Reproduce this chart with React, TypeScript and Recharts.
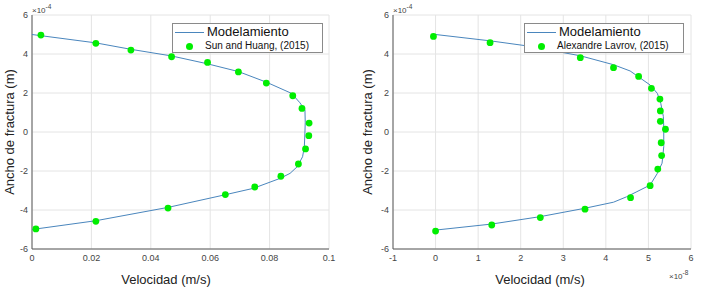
import React from "react";
import { ScatterChart, Scatter, XAxis, YAxis, CartesianGrid, Legend, Label } from "recharts";

// puntos (velocidad, ancho) - ancho en x10^-4 m
type TPoint = { v: number; w: number };

// modelo izquierdo (velocidad en m/s)
const modelLeft: TPoint[] = [
    { v: 0, w: 5.0 }, { v: 0.0215, w: 4.57 }, { v: 0.0333, w: 4.24 }, { v: 0.047, w: 3.9 },
    { v: 0.059, w: 3.5 }, { v: 0.0695, w: 3.1 }, { v: 0.079, w: 2.55 }, { v: 0.0874, w: 1.98 },
    { v: 0.0902, w: 1.5 }, { v: 0.0919, w: 1.13 }, { v: 0.092, w: 0.5 }, { v: 0.0919, w: 0 },
    { v: 0.0917, w: -0.75 }, { v: 0.0911, w: -1.27 }, { v: 0.0893, w: -1.78 }, { v: 0.0869, w: -2.12 },
    { v: 0.0835, w: -2.38 }, { v: 0.0745, w: -2.89 }, { v: 0.065, w: -3.22 }, { v: 0.046, w: -3.86 },
    { v: 0.0215, w: -4.55 }, { v: 0, w: -5.0 },
];

const sunHuang: TPoint[] = [
    { v: 0.003, w: 4.97 }, { v: 0.0215, w: 4.55 }, { v: 0.0333, w: 4.2 }, { v: 0.047, w: 3.86 },
    { v: 0.0591, w: 3.57 }, { v: 0.0695, w: 3.08 }, { v: 0.0789, w: 2.51 }, { v: 0.0878, w: 1.86 },
    { v: 0.0909, w: 1.21 }, { v: 0.0933, w: 0.46 }, { v: 0.0932, w: -0.19 }, { v: 0.0921, w: -0.87 },
    { v: 0.0897, w: -1.64 }, { v: 0.0838, w: -2.27 }, { v: 0.075, w: -2.82 }, { v: 0.0651, w: -3.21 },
    { v: 0.0458, w: -3.9 }, { v: 0.0215, w: -4.58 }, { v: 0.0013, w: -4.97 },
];

// modelo derecho (velocidad en x10^-8 m/s)
const modelRight: TPoint[] = [
    { v: 0, w: 5.0 }, { v: 1.3, w: 4.67 }, { v: 2.1, w: 4.43 }, { v: 3.4, w: 3.91 },
    { v: 4.18, w: 3.45 }, { v: 4.57, w: 3.13 }, { v: 5.04, w: 2.41 }, { v: 5.21, w: 1.98 },
    { v: 5.29, w: 1.47 }, { v: 5.35, w: 0.8 }, { v: 5.36, w: 0.27 }, { v: 5.36, w: -0.75 },
    { v: 5.32, w: -1.6 }, { v: 5.21, w: -2.12 }, { v: 5.04, w: -2.72 }, { v: 4.73, w: -3.06 },
    { v: 4.49, w: -3.32 }, { v: 4.18, w: -3.6 }, { v: 3.51, w: -3.91 }, { v: 2.46, w: -4.34 },
    { v: 1.32, w: -4.72 }, { v: 0, w: -5.03 },
];

const lavrov: TPoint[] = [
    { v: -0.05, w: 4.9 }, { v: 1.28, w: 4.58 }, { v: 3.4, w: 3.81 }, { v: 4.18, w: 3.3 },
    { v: 4.77, w: 2.85 }, { v: 5.07, w: 2.24 }, { v: 5.27, w: 1.69 }, { v: 5.28, w: 1.08 },
    { v: 5.28, w: 0.55 }, { v: 5.4, w: 0.14 }, { v: 5.3, w: -0.55 }, { v: 5.31, w: -1.21 },
    { v: 5.22, w: -1.9 }, { v: 5.04, w: -2.75 }, { v: 4.58, w: -3.37 }, { v: 3.51, w: -3.96 },
    { v: 2.46, w: -4.39 }, { v: 1.32, w: -4.77 }, { v: 0, w: -5.08 },
];

const yTicks = [-6, -4, -2, 0, 2, 4, 6];
const xTicksLeft = [0, 0.02, 0.04, 0.06, 0.08, 0.1];
const xTicksRight = [-1, 0, 1, 2, 3, 4, 5, 6];

const FONT = "'Liberation Sans', Arial, Helvetica, sans-serif";
const LINE_COLOR = "#4a86bd";
const DOT_COLOR = "#00ee00";
const GRID = "#e4e4e4";
const AXIS = "#5a5a5a";
const TICK = { fontSize: 9, fill: "#444", fontFamily: FONT };

const noShape = () => <g />;
const dotShape = (props: any) => <circle cx={props.cx} cy={props.cy} r={3.4} fill={DOT_COLOR} />;

type TLegendProps = { series: string; width: number };

function LegendBox({ series, width }: TLegendProps) {
    return (
        <div
            style={{
                position: "relative",
                width,
                height: 30,
                background: "#fff",
                border: "1px solid #8a8a8a",
                boxSizing: "border-box",
                fontFamily: FONT,
                color: "#111",
            }}
        >
            <div style={{ position: "absolute", left: 2, top: 8, width: 29, height: 1, background: LINE_COLOR }} />
            <div style={{ position: "absolute", left: 34, top: 0, fontSize: 13, lineHeight: "16px", whiteSpace: "nowrap" }}>
                Modelamiento
            </div>
            <div
                style={{
                    position: "absolute",
                    left: 13,
                    top: 19,
                    width: 7,
                    height: 7,
                    borderRadius: "50%",
                    background: DOT_COLOR,
                }}
            />
            <div style={{ position: "absolute", left: 32, top: 16, fontSize: 10, lineHeight: "12px", whiteSpace: "nowrap" }}>
                {series}
            </div>
        </div>
    );
}

const exponent = (x: number, y: number, exp: string) => () =>
    (
        <text x={x} y={y} fontSize={8} fill="#444" fontFamily={FONT}>
            ×10
            <tspan dy={-4} fontSize={6.5}>
                {exp}
            </tspan>
        </text>
    );

const yLabel = (x: number) => () =>
    (
        <text
            x={x}
            y={132}
            transform={`rotate(-90 ${x} 132)`}
            textAnchor="middle"
            dominantBaseline="central"
            fontSize={13}
            fill="#222"
            fontFamily={FONT}
        >
            Ancho de fractura (m)
        </text>
    );

const xLabel = (x: number) => () =>
    (
        <text x={x} y={284} textAnchor="middle" fontSize={13} fill="#222" fontFamily={FONT}>
            Velocidad (m/s)
        </text>
    );

type TPanelProps = {
    width: number;
    yAxisWidth: number;
    marginRight: number;
    xDomain: [number, number];
    xTicks: number[];
    model: TPoint[];
    data: TPoint[];
    series: string;
    legendLeft: number;
    legendWidth: number;
    yLabelX: number;
    xLabelX: number;
    fmt: (v: number) => string;
    xExp?: boolean;
};

function Panel(p: TPanelProps) {
    return (
        <ScatterChart width={p.width} height={292} margin={{ top: 15, right: p.marginRight, bottom: 0, left: 0 }}>
            <CartesianGrid stroke={GRID} horizontalValues={yTicks} verticalValues={p.xTicks} />
            <XAxis
                type="number"
                dataKey="v"
                domain={p.xDomain}
                ticks={p.xTicks}
                interval={0}
                tickFormatter={p.fmt}
                height={43}
                tick={TICK}
                tickLine={false}
                tickSize={0}
                tickMargin={6}
                stroke={AXIS}
                allowDataOverflow
            >
                <Label content={xLabel(p.xLabelX)} />
                {p.xExp && <Label content={exponent(p.width - 32, 279, "-8")} />}
            </XAxis>
            <YAxis
                type="number"
                dataKey="w"
                domain={[-6, 6]}
                ticks={yTicks}
                interval={0}
                width={p.yAxisWidth}
                tick={TICK}
                tickLine={false}
                tickSize={0}
                tickMargin={4}
                stroke={AXIS}
                allowDataOverflow
            >
                <Label content={yLabel(p.yLabelX)} />
                <Label content={exponent(p.yAxisWidth, 13, "-4")} />
            </YAxis>
            <Scatter
                name="Modelamiento"
                data={p.model}
                line={{ stroke: LINE_COLOR, strokeWidth: 1 }}
                lineType="joint"
                shape={noShape}
                isAnimationActive={false}
            />
            <Scatter name={p.series} data={p.data} shape={dotShape} isAnimationActive={false} />
            <Legend
                layout="horizontal"
                verticalAlign="middle"
                align="center"
                wrapperStyle={{ top: 23, left: p.legendLeft, width: p.legendWidth, height: 30 }}
                content={() => <LegendBox series={p.series} width={p.legendWidth} />}
            />
        </ScatterChart>
    );
}

export default function App() {
    return (
        <div style={{ position: "absolute", left: 0, top: 0, width: 701, height: 292, background: "#fff", display: "flex" }}>
            <Panel
                width={350}
                yAxisWidth={32}
                marginRight={21}
                xDomain={[0, 0.1]}
                xTicks={xTicksLeft}
                model={modelLeft}
                data={sunHuang}
                series="Sun and Huang, (2015)"
                legendLeft={172}
                legendWidth={151}
                yLabelX={9}
                xLabelX={166}
                fmt={(v) => String(v)}
            />
            <Panel
                width={351}
                yAxisWidth={43}
                marginRight={10}
                xDomain={[-1, 6]}
                xTicks={xTicksRight}
                model={modelRight}
                data={lavrov}
                series="Alexandre Lavrov, (2015)"
                legendLeft={174}
                legendWidth={160}
                yLabelX={17}
                xLabelX={190}
                fmt={(v) => String(v)}
                xExp
            />
        </div>
    );
}
